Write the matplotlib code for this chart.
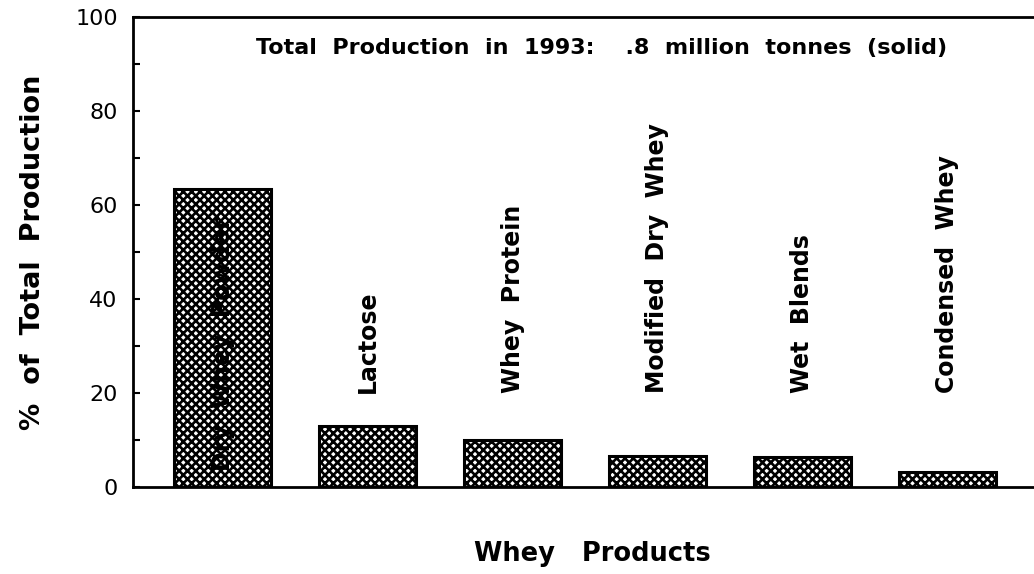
import matplotlib
matplotlib.use("Agg")
import matplotlib.pyplot as plt

categories = ["Dry  Whey  Powder", "Lactose", "Whey  Protein", "Modified  Dry  Whey", "Wet  Blends", "Condensed  Whey"]
values = [63.5, 13.0, 10.0, 6.6, 6.4, 3.2]
yticks = [0, 20, 40, 60, 80, 100]
title_text = "Total  Production  in  1993:    .8  million  tonnes  (solid)"
xlabel_text = "Whey   Products"
ylabel_text = "%  of  Total  Production"

plt.rcParams['font.family'] = ['DejaVu Sans']
plt.rcParams['hatch.linewidth'] = 1.9

fig = plt.figure(figsize=(10.34, 5.74), dpi=100)
ax = fig.add_axes([0.1286, 0.1516, 0.8714, 0.8188])

x = list(range(len(categories)))
ax.bar(x, values, width=0.67, color='white', edgecolor='black', hatch='xxxx', linewidth=2.2)

ax.set_xlim(-0.62, 5.6)
ax.set_ylim(0, 100)
ax.set_yticks(yticks)
ax.set_yticks([10, 30, 50, 70, 90], minor=True)
ax.tick_params(axis='y', which='both', direction='in', length=5, width=1.5, labelsize=16, pad=11)
ax.set_xticks([])

for s in ['left', 'top', 'bottom']:
    ax.spines[s].set_linewidth(2)
ax.spines['right'].set_visible(False)

# bar labels
for i, (c, v) in enumerate(zip(categories, values)):
    ypos = 3.5 if i == 0 else 20
    ax.text(i, ypos, c, rotation=90, ha='center', va='bottom', fontsize=17, fontweight='bold')

ax.text(0.52, 0.935, title_text, transform=ax.transAxes, ha='center', va='center',
        fontsize=16, fontweight='bold')
ax.set_xlabel(xlabel_text, fontsize=18.5, fontweight='bold')
ax.xaxis.set_label_coords(0.51, -0.115)
ax.set_ylabel(ylabel_text, fontsize=19.5, fontweight='bold')
ax.yaxis.set_label_coords(-0.097, 0.5)

fig.savefig("out.png", dpi=100)
